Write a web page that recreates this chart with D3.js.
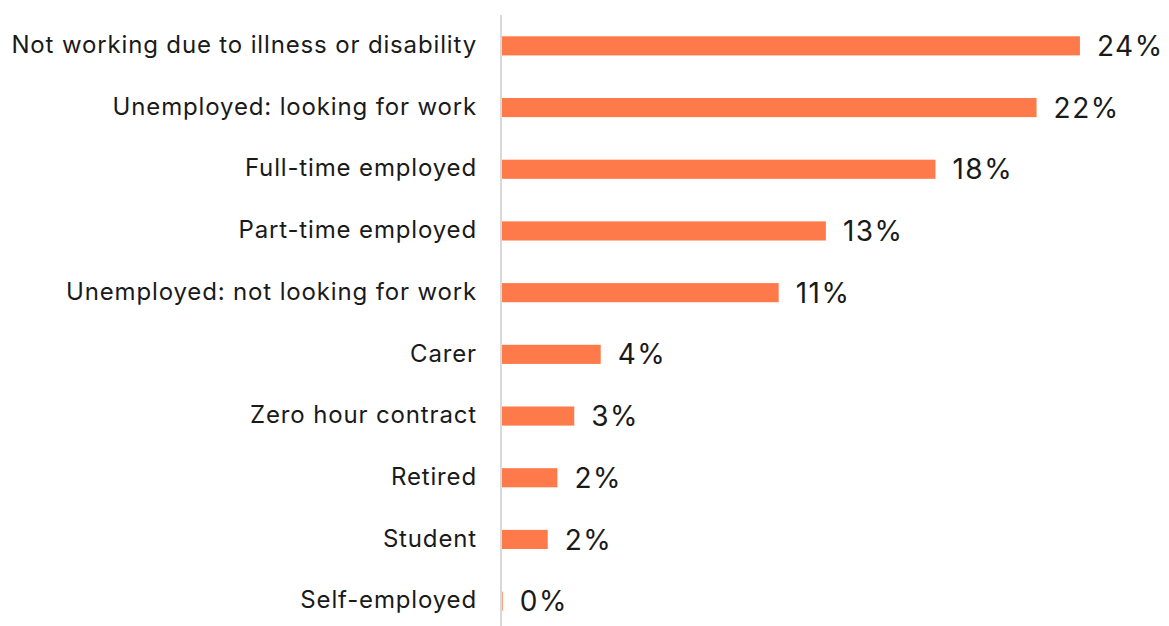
<!DOCTYPE html>
<html>
<head>
<meta charset="utf-8">
<script src="https://cdn.jsdelivr.net/npm/d3@7"></script>
<style>
  html, body { margin: 0; padding: 0; background: #ffffff; }
  svg { display: block; }
  text { font-family: Inter, "Noto Sans", sans-serif; fill: #1a1a1a; }
</style>
</head>
<body>
<svg id="chart" width="1169" height="626"></svg>
<script>
// Employment status of respondents (share of total)
const categories = [
  "Not working due to illness or disability",
  "Unemployed: looking for work",
  "Full-time employed",
  "Part-time employed",
  "Unemployed: not looking for work",
  "Carer",
  "Zero hour contract",
  "Retired",
  "Student",
  "Self-employed"
];
const shares = [0.240, 0.222, 0.180, 0.1345, 0.1149, 0.041, 0.030, 0.023, 0.019, 0.0003];

const width = 1169, height = 626;
const margin = { top: 15, right: 20, bottom: 0, left: 502 };

const svg = d3.select("#chart");

const x = d3.scaleLinear()
  .domain([0, 0.25])
  .range([margin.left, margin.left + 602]);

const y = d3.scaleBand()
  .domain(categories)
  .range([margin.top, margin.top + 617])
  .paddingInner(0.69)
  .paddingOuter(0.345);

const pct = d3.format(".0%");

// bars
svg.append("g")
  .selectAll("rect")
  .data(categories)
  .join("rect")
  .attr("x", x(0))
  .attr("y", d => y(d))
  .attr("width", (d, i) => x(shares[i]) - x(0))
  .attr("height", y.bandwidth())
  .attr("fill", "#FF7A4A");

// vertical category axis line
svg.append("line")
  .attr("x1", x(0) - 1).attr("x2", x(0) - 1)
  .attr("y1", margin.top).attr("y2", height)
  .attr("stroke", "#d9d9d9")
  .attr("stroke-width", 2);

// category labels
const yAxis = d3.axisLeft(y).tickSize(0).tickPadding(25);
const ga = svg.append("g")
  .attr("transform", `translate(${x(0)},0)`)
  .call(yAxis);
ga.select(".domain").remove();
ga.selectAll("text")
  .attr("font-size", 24)
  .attr("dy", "0.3em")
  .style("font-family", "Inter, 'Noto Sans', sans-serif")
  .style("letter-spacing", "0.85px")
  .attr("fill", "#1a1a1a");

// value labels
svg.append("g")
  .selectAll("text")
  .data(categories)
  .join("text")
  .attr("x", (d, i) => x(shares[i]) + 17)
  .attr("y", d => y(d) + y.bandwidth() / 2)
  .attr("dy", "0.36em")
  .attr("font-size", 28)
  .style("letter-spacing", "1.5px")
  .text((d, i) => pct(shares[i]));
</script>
</body>
</html>
